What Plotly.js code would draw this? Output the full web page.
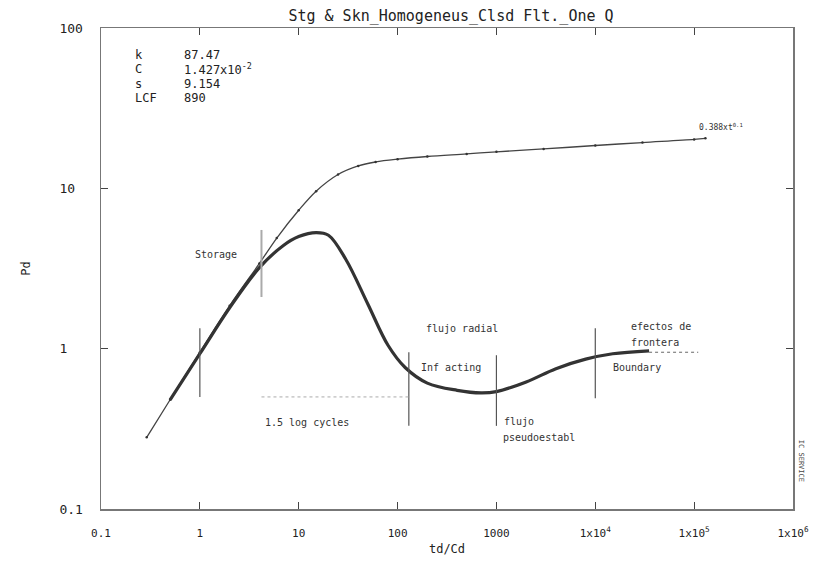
<!DOCTYPE html>
<html>
<head>
<meta charset="utf-8">
<script src="https://cdn.plot.ly/plotly-3.0.1.min.js"></script>
<style>html,body{margin:0;padding:0;background:#fff;}#chart{width:820px;height:564px;}</style>
</head>
<body>
<div id="chart"></div>
<script>
// Pressure curve (Pd vs td/Cd)
var presT = [0.29, 0.5, 1, 2, 4, 6, 10, 15, 25, 40, 60, 100, 200, 500, 1000, 3000, 10000, 30000, 100000, 130000];
var presP = [0.28, 0.48, 0.95, 1.85, 3.4, 4.9, 7.3, 9.6, 12.2, 13.8, 14.6, 15.2, 15.8, 16.4, 16.9, 17.6, 18.5, 19.3, 20.2, 20.5];
// Derivative curve
var derT = [0.5, 1, 2, 4, 7, 10, 15, 20, 30, 50, 80, 120, 200, 400, 700, 1000, 2000, 4000, 8000, 15000, 35000];
var derP = [0.48, 0.93, 1.8, 3.2, 4.4, 5.0, 5.3, 5.1, 3.6, 1.9, 1.05, 0.76, 0.61, 0.55, 0.53, 0.54, 0.62, 0.75, 0.86, 0.93, 0.97];
// Flow-regime marker segments
var markT = [1, 1, null, 130, 130, null, 1000, 1000, null, 10000, 10000];
var markP = [0.5, 1.34, null, 0.33, 0.95, null, 0.33, 0.91, null, 0.49, 1.34];
var storT = [4.2, 4.2];
var storP = [2.1, 5.5];
var cycT = [4.2, 130];
var cycP = [0.5, 0.5];
var bndT = [35000, 110000];
var bndP = [0.95, 0.95];
// Ticks
var xTickVals = [0.1, 1, 10, 100, 1000, 10000, 100000, 1000000];
var xTickText = ["0.1", "1", "10", "100", "1000", "1x10<sup>4</sup>", "1x10<sup>5</sup>", "1x10<sup>6</sup>"];
var yTickVals = [0.1, 1, 10, 100];
var yTickText = ["0.1", "1\u00a0\u00a0", "10\u00a0", "100"];
// Parameters box
var paramNames = ["k", "C", "s", "LCF"];
var paramVals = ["87.47", "1.427x10<sup>-2</sup>", "9.154", "890"];
// Regime labels
var lblText = ["Storage", "flujo radial", "Inf acting", "flujo", "pseudoestabl", "efectos de", "frontera", "Boundary", "1.5 log cycles"];
var lblT = [0.85, 185, 165, 1150, 1100, 22000, 22000, 14500, 4.35];
var lblP = [3.84, 1.34, 0.76, 0.353, 0.281, 1.38, 1.10, 0.76, 0.348];

var FONT = "DejaVu Sans Mono, Liberation Mono, monospace";

var traces = [
  {x: presT, y: presP, mode: "lines+markers", line: {color: "#444", width: 1.3, shape: "spline"},
   marker: {size: 2.5, color: "#333"}, hoverinfo: "skip"},
  {x: derT, y: derP, mode: "lines", line: {color: "#333", width: 3.2, shape: "spline"}, hoverinfo: "skip"},
  {x: markT, y: markP, mode: "lines", line: {color: "#555", width: 1.2}, connectgaps: false, hoverinfo: "skip"},
  {x: storT, y: storP, mode: "lines", line: {color: "#aaa", width: 2}, hoverinfo: "skip"},
  {x: cycT, y: cycP, mode: "lines", line: {color: "#aaa", width: 1, dash: "dot"}, hoverinfo: "skip"},
  {x: bndT, y: bndP, mode: "lines", line: {color: "#666", width: 1, dash: "dot"}, hoverinfo: "skip"}
];

var ann = [];
for (var i = 0; i < paramNames.length; i++) {
  var yy = 0.944 - i * 0.030;
  ann.push({xref: "paper", yref: "paper", x: 0.046, y: yy, text: paramNames[i], showarrow: false,
    xanchor: "left", yanchor: "middle", font: {family: FONT, size: 12, color: "#222"}});
  ann.push({xref: "paper", yref: "paper", x: 0.117, y: yy, text: paramVals[i], showarrow: false,
    xanchor: "left", yanchor: "middle", font: {family: FONT, size: 12, color: "#222"}});
}
for (var j = 0; j < lblText.length; j++) {
  ann.push({x: Math.log10(lblT[j]), y: Math.log10(lblP[j]), text: lblText[j], showarrow: false,
    xanchor: "left", yanchor: "middle", font: {family: FONT, size: 10, color: "#333"}});
}
ann.push({xref: "paper", yref: "paper", x: 0.861, y: 0.794, text: "0.388xt<sup>0.1</sup>", showarrow: false,
  xanchor: "left", yanchor: "middle", font: {family: FONT, size: 8, color: "#333"}});
ann.push({xref: "paper", yref: "paper", x: 1.003, y: 0.10, text: "IC SERVICE", showarrow: false, textangle: 90,
  xanchor: "left", yanchor: "middle", font: {family: FONT, size: 7, color: "#444"}});

var layout = {
  width: 820, height: 564,
  margin: {l: 101, r: 27, t: 28, b: 55},
  paper_bgcolor: "#fff", plot_bgcolor: "#fff",
  showlegend: false,
  title: {text: "Stg & Skn_Homogeneus_Clsd Flt._One Q", x: 0.55, xanchor: "center", y: 0.972, yanchor: "middle",
    yref: "container", font: {family: FONT, size: 15, color: "#222"}},
  xaxis: {type: "log", range: [-1, 6], tickvals: xTickVals, ticktext: xTickText, ticks: "inside", ticklen: 7,
    tickcolor: "#444", showgrid: false, zeroline: false, showline: true, linecolor: "#777", linewidth: 1.5, mirror: "ticks",
    tickfont: {family: FONT, size: 11, color: "#222"}, ticklabelstandoff: 13,
    title: {text: "td/Cd", standoff: 6, font: {family: FONT, size: 12, color: "#222"}}},
  yaxis: {type: "log", range: [-1, 2], tickvals: yTickVals, ticktext: yTickText, ticks: "inside", ticklen: 7,
    tickcolor: "#444", showgrid: false, zeroline: false, showline: true, linecolor: "#777", linewidth: 1.5, mirror: "ticks",
    tickfont: {family: FONT, size: 13, color: "#222"}, ticklabelstandoff: 14,
    title: {text: "Pd", standoff: 26, font: {family: FONT, size: 12, color: "#222"}}},
  annotations: ann
};

Plotly.newPlot("chart", traces, layout, {staticPlot: true});
</script>
</body>
</html>
